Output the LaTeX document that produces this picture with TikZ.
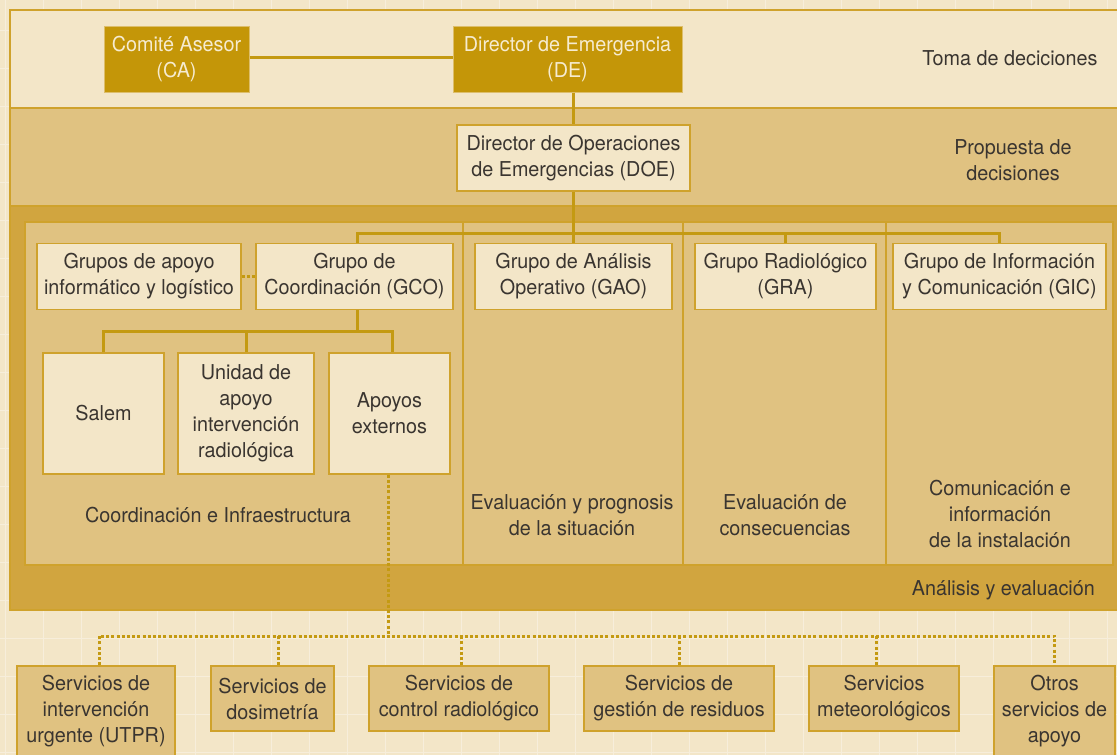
\documentclass[tikz,border=0pt]{standalone}
\usepackage{fontspec}
\setmainfont{TeX Gyre Heros}[FakeStretch=0.965]
\usetikzlibrary{calc}
\definecolor{bgc}{HTML}{F3E6C8}
\definecolor{gridc}{HTML}{F7EEDB}
\definecolor{bandtwo}{HTML}{E0C281}
\definecolor{bandthree}{HTML}{D1A53F}
\definecolor{framec}{HTML}{CFA22C}
\definecolor{darkbox}{HTML}{C49608}
\definecolor{linec}{HTML}{C49A12}
\definecolor{txt}{HTML}{3A3530}
\definecolor{lighttxt}{HTML}{F6EBD0}
\tikzset{
  lbl/.style={text=txt,align=center,inner sep=0pt,font=\fontsize{20.5}{26}\selectfont},
  darknode/.style={fill=darkbox,draw=framec!70!white,line width=1pt,text=lighttxt,align=center,inner sep=0pt,font=\fontsize{20.5}{26}\selectfont},
  lightnode/.style={fill=bgc,draw=framec,line width=1.5pt,text=txt,align=center,inner sep=0pt,font=\fontsize{20.5}{26}\selectfont},
  servnode/.style={fill=bandtwo,draw=framec,line width=1.5pt,text=txt,align=center,inner sep=0pt,font=\fontsize{20.5}{26}\selectfont},
  conn/.style={draw=linec,line width=3pt},
  dotconn/.style={draw=linec,line width=3pt,dash pattern=on 3pt off 2.2pt},
}
\begin{document}
\begin{tikzpicture}[x=1pt,y=-1pt]
\useasboundingbox (0,0) rectangle (1117,755);
% background
\fill[bgc] (0,0) rectangle (1117,755);
\foreach \i in {0,...,29} {\draw[gridc,line width=1pt] ({5+38*\i},0) -- ({5+38*\i},755);}
\foreach \j in {0,...,20} {\draw[gridc,line width=1pt] (0,{-8+38*\j}) -- (1117,{-8+38*\j});}
% bands
\filldraw[fill=bandthree,draw=framec,line width=2pt] (10,206) rectangle (1130,610);
\filldraw[fill=bandtwo,draw=framec,line width=2pt] (10,108) rectangle (1130,206);
\filldraw[fill=bgc,draw=framec,line width=2pt] (10,10) rectangle (1130,108);
% inner panel
\filldraw[fill=bandtwo,draw=framec,line width=1.5pt] (25,222) rectangle (1113,565);
\draw[framec,line width=1.5pt] (463,222) -- (463,565);
\draw[framec,line width=1.5pt] (683,222) -- (683,565);
\draw[framec,line width=1.5pt] (886,222) -- (886,565);
% band labels
\node[lbl] (toma) at (1010,58) {Toma de deciciones};
\node[lbl] (prop) at (1013,160) {Propuesta de\\decisiones};
\node[lbl,anchor=east] (anal) at (1095,590) {Análisis y evaluación};
% column labels
\node[lbl] (c1) at (218,515) {Coordinación e Infraestructura};
\node[lbl] (c2) at (572,515) {Evaluación y prognosis\\de la situación};
\node[lbl] (c3) at (785,515) {Evaluación de\\consecuencias};
\node[lbl] (c4) at (1000,514) {Comunicación e\\información\\de la instalación};
% top nodes
\node[darknode,minimum width=145pt,minimum height=66pt] (CA) at (176.5,59) {Comité Asesor\\(CA)};
\node[darknode,minimum width=229pt,minimum height=66pt] (DE) at (567.5,59) {Director de Emergencia\\(DE)};
\node[lightnode,minimum width=233pt,minimum height=66pt] (DOE) at (573.5,158) {Director de Operaciones\\de Emergencias (DOE)};
% row 1
\node[lightnode,minimum width=204pt,minimum height=66pt] (GAIL) at (139,276.5) {Grupos de apoyo\\informático y logístico};
\node[lightnode,minimum width=197pt,minimum height=66pt] (GCO) at (354.5,276.5) {Grupo de\\Coordinación (GCO)};
\node[lightnode,minimum width=197pt,minimum height=66pt] (GAO) at (573.5,276.5) {Grupo de Análisis\\Operativo (GAO)};
\node[lightnode,minimum width=181pt,minimum height=66pt] (GRA) at (785.5,276.5) {Grupo Radiológico\\(GRA)};
\node[lightnode,minimum width=213pt,minimum height=66pt] (GIC) at (999.5,276.5) {Grupo de Información\\y Comunicación (GIC)};
% row 2
\node[lightnode,minimum width=121pt,minimum height=121pt] (Salem) at (103.5,413.5) {Salem};
\node[lightnode,minimum width=136pt,minimum height=121pt] (UAIR) at (246,413.5) {Unidad de\\apoyo\\intervención\\radiológica};
\node[lightnode,minimum width=121pt,minimum height=121pt] (AE) at (389.5,413.5) {Apoyos\\externos};
% services
\node[servnode,minimum width=158pt,minimum height=90pt] (S1) at (96,711) {Servicios de\\intervención\\urgente (UTPR)};
\node[servnode,minimum width=123pt,minimum height=65pt] (S2) at (272.5,698.5) {Servicios de\\dosimetría};
\node[servnode,minimum width=180pt,minimum height=65pt] (S3) at (459,698.5) {Servicios de\\control radiológico};
\node[servnode,minimum width=190pt,minimum height=65pt] (S4) at (679,698.5) {Servicios de\\gestión de residuos};
\node[servnode,minimum width=150pt,minimum height=65pt] (S5) at (884,698.5) {Servicios\\meteorológicos};
\node[servnode,minimum width=121pt,minimum height=90pt] (S6) at (1054.5,711) {Otros\\servicios de\\apoyo};
% connectors
\coordinate (barA) at (0,233);
\coordinate (barB) at (0,331);
\coordinate (barC) at (0,636);
\draw[conn] (CA.east |- 0,57) -- (DE.west |- 0,57);
\draw[conn] (DOE.north |- DE.south) -- (DOE.north);
\draw[conn] (DOE.south) -- (GAO.north);
\draw[conn] ($(GCO.north)+(2.5,0)$) -- ($(GCO.north |- barA)+(2.5,0)$) -- (GIC.north |- barA) -- (GIC.north);
\draw[conn] (GRA.north) -- (GRA.north |- barA);
\draw[conn] ($(GCO.south)+(2.5,0)$) -- ($(GCO.south |- barB)+(2.5,0)$);
\draw[conn] (Salem.north) -- (Salem.north |- barB) -- ($(AE.north |- barB)+(3,0)$) -- ($(AE.north)+(3,0)$);
\draw[conn] (UAIR.north) -- (UAIR.north |- barB);
\draw[dotconn] (GAIL.east) -- (GCO.west);
\draw[dotconn] ($(AE.south)+(-1.5,0)$) -- ($(AE.south |- barC)+(-1.5,0)$);
\draw[dotconn] ($(S1.north)+(3,0)$) -- ($(S1.north |- barC)+(3,0)$) -- (S6.north |- barC) -- (S6.north);
\draw[dotconn] ($(S2.north)+(6,0)$) -- ($(S2.north |- barC)+(6,0)$);
\draw[dotconn] ($(S3.north)+(2,0)$) -- ($(S3.north |- barC)+(2,0)$);
\draw[dotconn] (S4.north) -- (S4.north |- barC);
\draw[dotconn] ($(S5.north)+(-8,0)$) -- ($(S5.north |- barC)+(-8,0)$);
\end{tikzpicture}
\end{document}
